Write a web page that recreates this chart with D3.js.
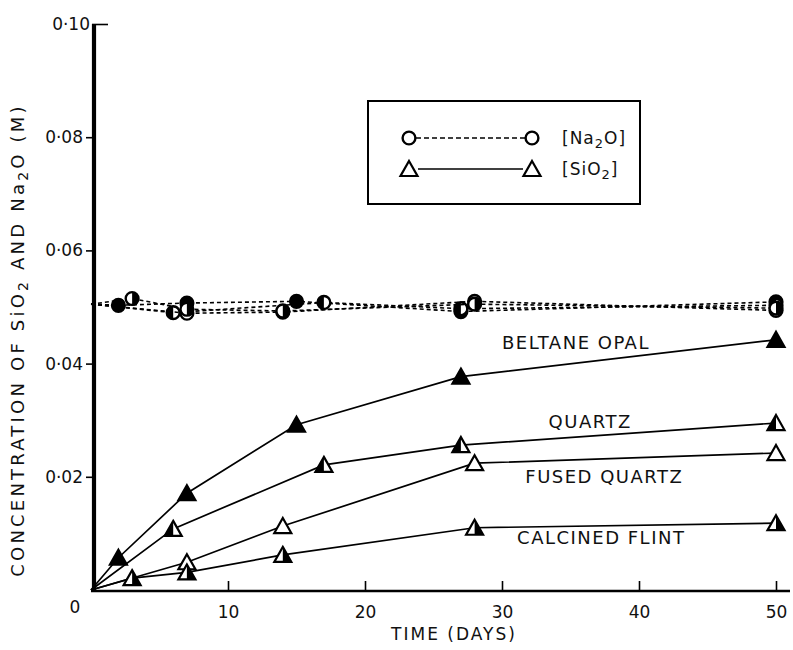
<!DOCTYPE html>
<html>
<head>
<meta charset="utf-8">
<script src="https://cdn.jsdelivr.net/npm/d3@7"></script>
<style>
  html, body { margin: 0; padding: 0; background: #fff; }
  svg text { font-family: "DejaVu Sans", sans-serif; fill: #111; }
</style>
</head>
<body>
<script>
// Dissolution of silica minerals in Na2O solution: [SiO2] and [Na2O] against time.
const xTicks = [10, 20, 30, 40, 50];
const yTicks = [0.02, 0.04, 0.06, 0.08, 0.10];

// Beltane opal (filled markers)
const opalDays  = [0, 2, 7, 15, 27, 50];
const opalSiO2  = [0, 0.0057, 0.0171, 0.0292, 0.0377, 0.0442];
const opalNa2O  = [0.0505, 0.0503, 0.0507, 0.0510, 0.0492, 0.0509];

// Quartz (left-half filled markers)
const quartzDays = [0, 6, 17, 27, 50];
const quartzSiO2 = [0, 0.0108, 0.0221, 0.0256, 0.0295];
const quartzNa2O = [0.0505, 0.0490, 0.0508, 0.0497, 0.0503];

// Fused quartz (open markers)
const fusedDays = [0, 7, 14, 28, 50];
const fusedSiO2 = [0, 0.0049, 0.0113, 0.0224, 0.0242];
const fusedNa2O = [0.0505, 0.0489, 0.0491, 0.0510, 0.0494];

// Calcined flint (right-half filled markers)
const flintDays = [0, 3, 7, 14, 28, 50];
const flintSiO2 = [0, 0.0021, 0.0031, 0.0062, 0.0110, 0.0118];
const flintNa2O = [0.0505, 0.0515, 0.0496, 0.0493, 0.0505, 0.0498];

const mineralNames = ["BELTANE OPAL", "QUARTZ", "FUSED QUARTZ", "CALCINED FLINT"];
const markerFills  = ["full", "left", "open", "right"];

const series = [
  { days: opalDays,   si: opalSiO2,   na: opalNa2O },
  { days: quartzDays, si: quartzSiO2, na: quartzNa2O },
  { days: fusedDays,  si: fusedSiO2,  na: fusedNa2O },
  { days: flintDays,  si: flintSiO2,  na: flintNa2O }
].map((s, i) => ({ ...s, name: mineralNames[i], fill: markerFills[i] }));

const W = 793, H = 650;
const svg = d3.select("body").append("svg").attr("width", W).attr("height", H);

const x = d3.scaleLinear().domain([0, 50]).range([91, 776]);
const y = d3.scaleLinear().domain([0, 0.10]).range([590, 24]);

const dot = d => d3.format(".2f")(d).replace(".", "\u00B7");

// ---- axes ----
const xAxis = svg.append("g").attr("transform", `translate(0,${y(0) + 1})`)
  .call(d3.axisBottom(x).tickValues(xTicks).tickSizeInner(-10).tickSizeOuter(0).tickPadding(20));
xAxis.select(".domain").remove();
xAxis.selectAll(".tick line").attr("stroke", "#000").attr("stroke-width", 1.6);
xAxis.selectAll(".tick text").style("font-size", "17px").attr("dy", "0.4em");

svg.append("line")
  .attr("x1", x(0)).attr("x2", 790)
  .attr("y1", y(0) + 1).attr("y2", y(0) + 1)
  .attr("stroke", "#000").attr("stroke-width", 2.6);

const yAxis = svg.append("g").attr("transform", `translate(${x(0) + 3},0)`)
  .call(d3.axisLeft(y).tickValues(yTicks).tickSizeInner(8).tickSizeOuter(0).tickPadding(3).tickFormat(dot));
yAxis.select(".domain").remove();
yAxis.selectAll(".tick line").attr("stroke", "#000").attr("stroke-width", 1.6);
yAxis.selectAll(".tick text").style("font-size", "17px");
// the top tick also crosses to the inside of the frame
yAxis.selectAll(".tick").filter(d => d === 0.10).select("line").attr("x1", 14).attr("x2", -2);
yAxis.selectAll(".tick").filter(d => d === 0.10).select("text").attr("x", -4);

svg.append("line")
  .attr("x1", x(0) + 3).attr("x2", x(0) + 3)
  .attr("y1", y(0.10)).attr("y2", y(0) + 2)
  .attr("stroke", "#000").attr("stroke-width", 4.2);

// origin label
svg.append("text").attr("x", 75).attr("y", y(0) + 23)
  .attr("text-anchor", "middle").style("font-size", "17px").text("0");

// axis titles
svg.append("text").attr("x", 454).attr("y", 640)
  .attr("text-anchor", "middle").style("font-size", "17px").style("letter-spacing", "2px")
  .text("TIME  (DAYS)");

const yTitle = svg.append("text")
  .attr("transform", `translate(24,340) rotate(-90)`)
  .attr("text-anchor", "middle").style("font-size", "18px").style("letter-spacing", "3.2px");
yTitle.append("tspan").text("CONCENTRATION OF SiO");
yTitle.append("tspan").attr("baseline-shift", "-25%").style("font-size", "14px").text("2");
yTitle.append("tspan").text(" AND Na");
yTitle.append("tspan").attr("baseline-shift", "-25%").style("font-size", "14px").text("2");
yTitle.append("tspan").text("O   (M)");

// ---- markers ----
function triangle(g, fill) {
  g.append("path").attr("d", "M0,-8L8.5,7L-8.5,7Z")
    .attr("fill", fill === "full" ? "#000" : "#fff")
    .attr("stroke", "#000").attr("stroke-width", 2.2).attr("stroke-linejoin", "miter");
  if (fill === "left") g.append("path").attr("d", "M0,-8L-8.5,7L0,7Z").attr("fill", "#000");
  if (fill === "right") g.append("path").attr("d", "M0,-8L8.5,7L0,7Z").attr("fill", "#000");
}
function circle(g, fill) {
  g.append("circle").attr("r", 6.4)
    .attr("fill", fill === "full" ? "#000" : "#fff")
    .attr("stroke", "#000").attr("stroke-width", 2.4);
  if (fill === "left") g.append("path").attr("d", "M0,-6.4A6.4,6.4 0 0 0 0,6.4Z").attr("fill", "#000");
  if (fill === "right") g.append("path").attr("d", "M0,-6.4A6.4,6.4 0 0 1 0,6.4Z").attr("fill", "#000");
}

const line = d3.line().x(d => x(d.day)).y(d => y(d.v));

const plot = svg.append("g");

// Na2O: dashed lines with circles
series.forEach(s => {
  const pts = s.days.map((d, i) => ({ day: d, v: s.na[i] }));
  plot.append("path").datum(pts).attr("d", line)
    .attr("fill", "none").attr("stroke", "#000").attr("stroke-width", 1.6)
    .attr("stroke-dasharray", "4,3");
  pts.slice(1).forEach(p => {
    circle(plot.append("g").attr("transform", `translate(${x(p.day)},${y(p.v)})`), s.fill);
  });
});

// SiO2: solid lines with triangles
series.forEach(s => {
  const pts = s.days.map((d, i) => ({ day: d, v: s.si[i] }));
  plot.append("path").datum(pts).attr("d", line)
    .attr("fill", "none").attr("stroke", "#000").attr("stroke-width", 1.7);
  pts.slice(1).forEach(p => {
    triangle(plot.append("g").attr("transform", `translate(${x(p.day)},${y(p.v)})`), s.fill);
  });
});

// curve names
const nameAt = [
  { day: 30.0, v: 0.0437 },
  { day: 33.4, v: 0.0298 },
  { day: 31.7, v: 0.0201 },
  { day: 31.1, v: 0.0092 }
];
series.forEach((s, i) => {
  svg.append("text").attr("x", x(nameAt[i].day)).attr("y", y(nameAt[i].v))
    .attr("dy", "0.36em").style("font-size", "18px").style("letter-spacing", "1.5px")
    .text(s.name);
});

// ---- legend ----
const lg = svg.append("g");
lg.append("rect").attr("x", 368).attr("y", 101).attr("width", 272).attr("height", 103)
  .attr("fill", "#fff").attr("stroke", "#000").attr("stroke-width", 2);
const lx1 = 409, lx2 = 532, ly1 = 138, ly2 = 169;
lg.append("line").attr("x1", lx1 + 7).attr("x2", lx2 - 7).attr("y1", ly1).attr("y2", ly1)
  .attr("stroke", "#000").attr("stroke-width", 1.5).attr("stroke-dasharray", "5,3");
circle(lg.append("g").attr("transform", `translate(${lx1},${ly1})`), "open");
circle(lg.append("g").attr("transform", `translate(${lx2},${ly1})`), "open");
lg.append("line").attr("x1", lx1 + 9).attr("x2", lx2 - 9).attr("y1", ly2).attr("y2", ly2)
  .attr("stroke", "#000").attr("stroke-width", 1.3);
triangle(lg.append("g").attr("transform", `translate(${lx1},${ly2})`), "open");
triangle(lg.append("g").attr("transform", `translate(${lx2},${ly2})`), "open");

const t1 = lg.append("text").attr("x", 562).attr("y", ly1 + 6).style("font-size", "17px").style("letter-spacing", "1px");
t1.append("tspan").text("[Na");
t1.append("tspan").attr("baseline-shift", "-30%").style("font-size", "13px").text("2");
t1.append("tspan").text("O]");
const t2 = lg.append("text").attr("x", 562).attr("y", ly2 + 6).style("font-size", "17px").style("letter-spacing", "1px");
t2.append("tspan").text("[SiO");
t2.append("tspan").attr("baseline-shift", "-30%").style("font-size", "13px").text("2");
t2.append("tspan").text("]");
</script>
</body>
</html>
